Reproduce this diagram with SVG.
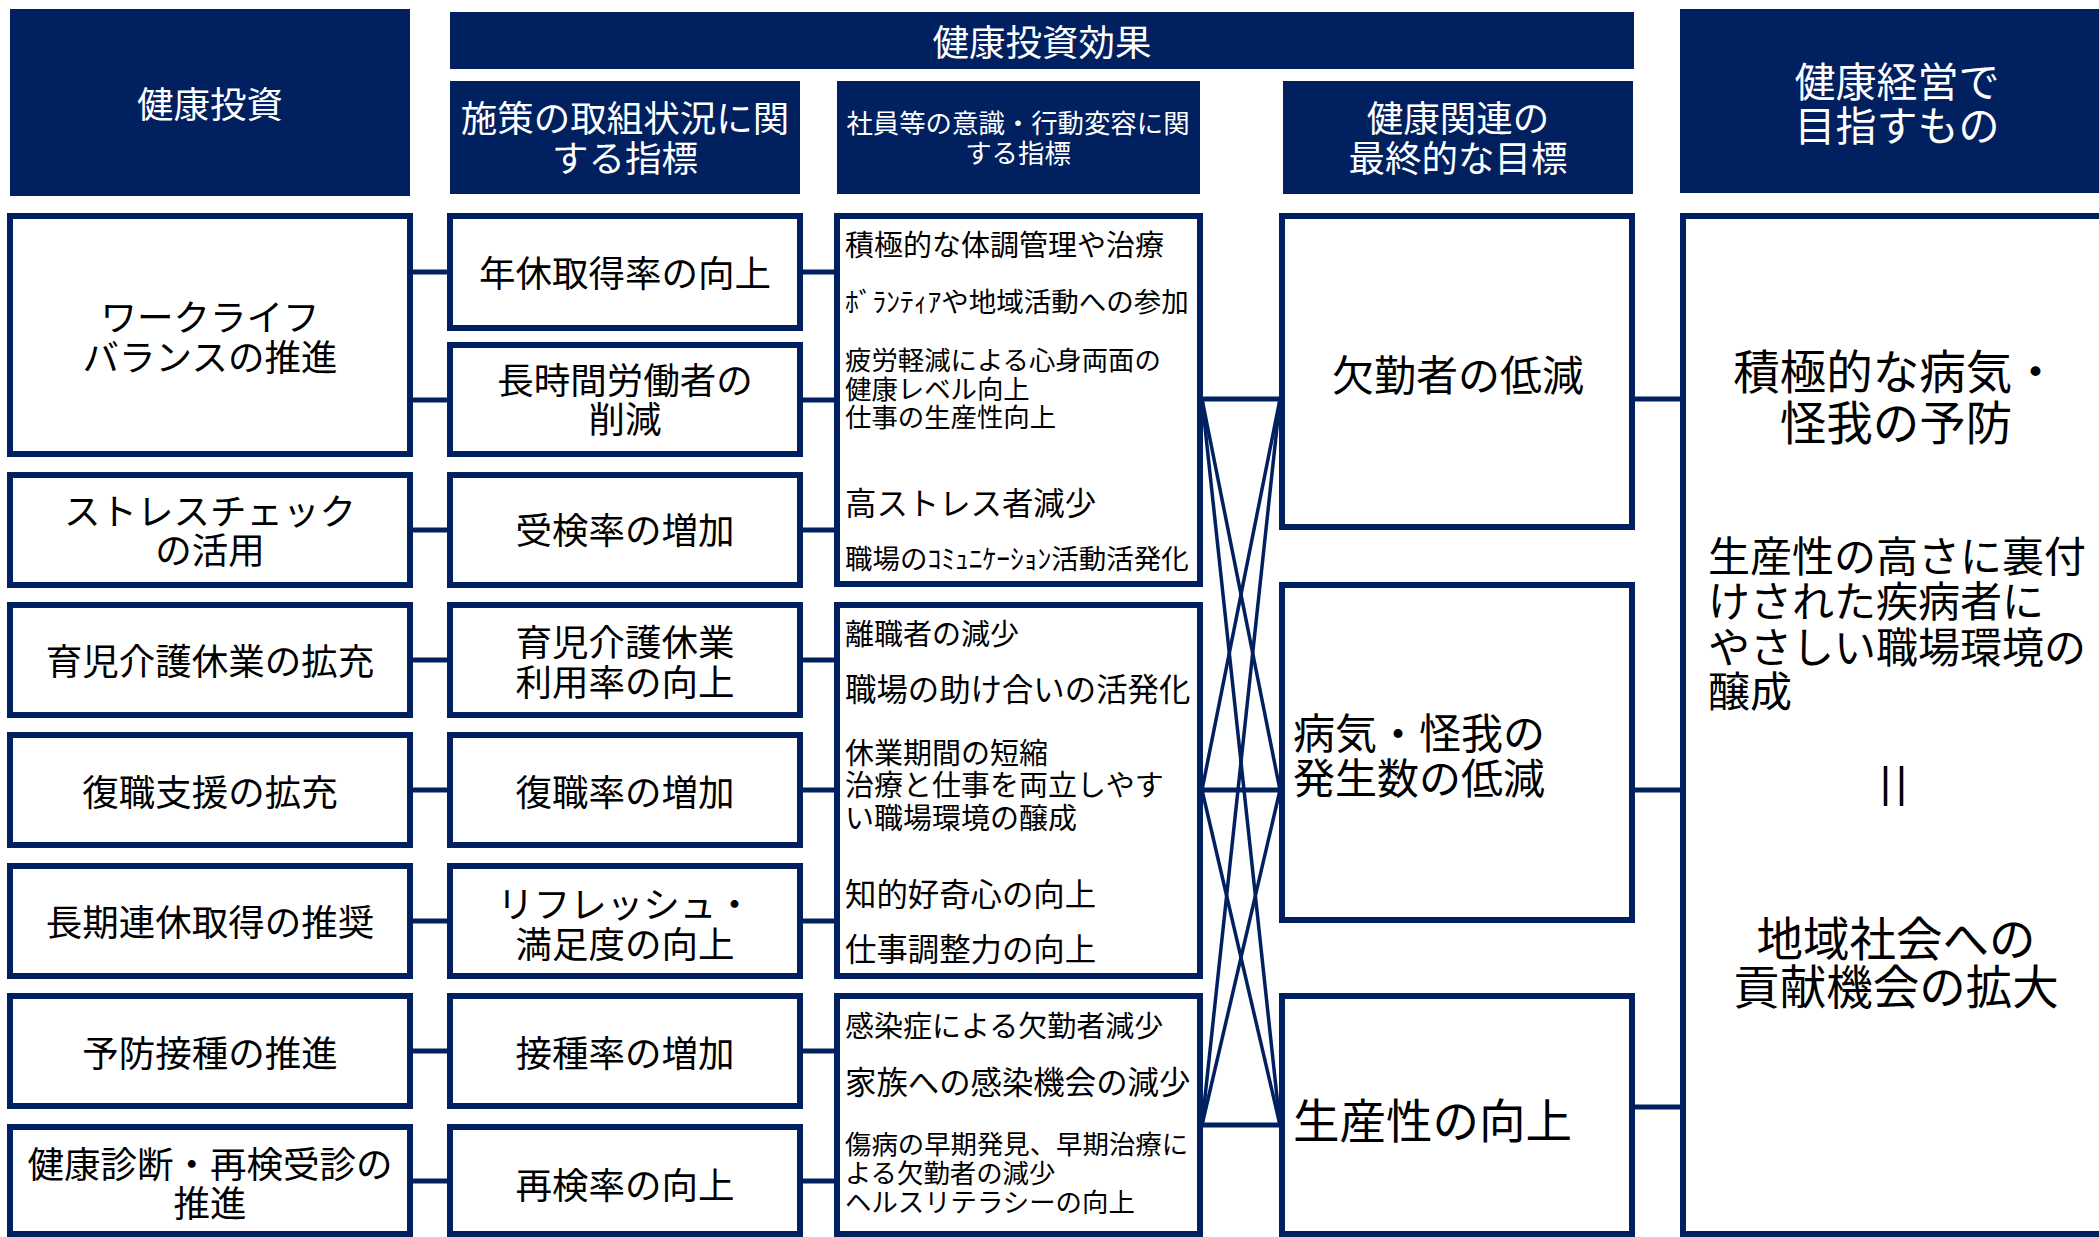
<svg xmlns="http://www.w3.org/2000/svg" width="2099" height="1237" viewBox="0 0 2099 1237">
<style>
text { font-family: "Noto Sans CJK JP", "Noto Sans CJK SC", sans-serif; dominant-baseline: central; }
.hdr { fill: #002060; }
.box { fill: #ffffff; stroke: #002060; stroke-width: 6; }
.hw { fill: #ffffff; text-anchor: middle; }
.m { fill: #000000; text-anchor: middle; }
.l { fill: #000000; text-anchor: start; }
.f26 { font-size: 26.4px; }
.f27 { font-size: 27.5px; }
.f29 { font-size: 29px; }
.f31 { font-size: 31.4px; }
.f36 { font-size: 36.5px; }
.f41 { font-size: 41px; }
.f42 { font-size: 42px; }
.f46 { font-size: 46.5px; }
.con line { stroke: #002060; }
.h { stroke-width: 5; }
.dg { stroke-width: 3.5; }
</style>
<rect x="0" y="0" width="2099" height="1237" fill="#ffffff"/>

<g id="connectors" class="con">
  <line class="h" x1="410" y1="272" x2="450" y2="272"/>
  <line class="h" x1="410" y1="400" x2="450" y2="400"/>
  <line class="h" x1="410" y1="530" x2="450" y2="530"/>
  <line class="h" x1="410" y1="660" x2="450" y2="660"/>
  <line class="h" x1="410" y1="790" x2="450" y2="790"/>
  <line class="h" x1="410" y1="921" x2="450" y2="921"/>
  <line class="h" x1="410" y1="1051" x2="450" y2="1051"/>
  <line class="h" x1="410" y1="1181" x2="450" y2="1181"/>

  <line class="h" x1="800" y1="272" x2="837" y2="272"/>
  <line class="h" x1="800" y1="400" x2="837" y2="400"/>
  <line class="h" x1="800" y1="530" x2="837" y2="530"/>
  <line class="h" x1="800" y1="660" x2="837" y2="660"/>
  <line class="h" x1="800" y1="790" x2="837" y2="790"/>
  <line class="h" x1="800" y1="921" x2="837" y2="921"/>
  <line class="h" x1="800" y1="1051" x2="837" y2="1051"/>
  <line class="h" x1="800" y1="1181" x2="837" y2="1181"/>

  <line class="h" x1="1200" y1="399" x2="1282" y2="399"/>
  <line class="h" x1="1200" y1="790" x2="1282" y2="790"/>
  <line class="h" x1="1200" y1="1125" x2="1282" y2="1125"/>
  <line class="dg" x1="1202" y1="399" x2="1280" y2="790"/>
  <line class="dg" x1="1202" y1="399" x2="1280" y2="1125"/>
  <line class="dg" x1="1202" y1="790" x2="1280" y2="399"/>
  <line class="dg" x1="1202" y1="790" x2="1280" y2="1125"/>
  <line class="dg" x1="1202" y1="1125" x2="1280" y2="399"/>
  <line class="dg" x1="1202" y1="1125" x2="1280" y2="790"/>

  <line class="h" x1="1632" y1="399" x2="1683" y2="399"/>
  <line class="h" x1="1632" y1="790" x2="1683" y2="790"/>
  <line class="h" x1="1632" y1="1107" x2="1683" y2="1107"/>
</g>

<g id="hdr-investment">
  <rect class="hdr" x="10" y="9" width="400" height="187"/>
  <text class="hw f36" x="210" y="102">健康投資</text>
</g>
<g id="hdr-effect">
  <rect class="hdr" x="450" y="12" width="1184" height="57"/>
  <text class="hw f36" x="1042" y="40">健康投資効果</text>
</g>
<g id="hdr-measures">
  <rect class="hdr" x="450" y="81" width="350" height="113"/>
  <text class="hw f36" x="625" y="116">施策の取組状況に関</text>
  <text class="hw f36" x="625" y="156">する指標</text>
</g>
<g id="hdr-awareness">
  <rect class="hdr" x="837" y="81" width="363" height="113"/>
  <text class="hw f26" x="1018" y="121">社員等の意識・行動変容に関</text>
  <text class="hw f26" x="1018" y="151">する指標</text>
</g>
<g id="hdr-goal">
  <rect class="hdr" x="1283" y="81" width="350" height="113"/>
  <text class="hw f36" x="1458" y="116">健康関連の</text>
  <text class="hw f36" x="1458" y="156">最終的な目標</text>
</g>
<g id="hdr-aim">
  <rect class="hdr" x="1680" y="9" width="419" height="184"/>
  <text class="hw f41" x="1897" y="79">健康経営で</text>
  <text class="hw f41" x="1897" y="123">目指すもの</text>
</g>

<!-- column 1 -->
<g id="inv-wlb">
  <rect class="box" x="10" y="216" width="400" height="238"/>
  <text class="m f36" x="210" y="315">ワークライフ</text>
  <text class="m f36" x="210" y="355">バランスの推進</text>
</g>
<g id="inv-stress">
  <rect class="box" x="10" y="475" width="400" height="110"/>
  <text class="m f36" x="210" y="509">ストレスチェック</text>
  <text class="m f36" x="210" y="548">の活用</text>
</g>
<g id="inv-childcare">
  <rect class="box" x="10" y="605" width="400" height="110"/>
  <text class="m f36" x="210" y="659">育児介護休業の拡充</text>
</g>
<g id="inv-return">
  <rect class="box" x="10" y="735" width="400" height="110"/>
  <text class="m f36" x="210" y="790">復職支援の拡充</text>
</g>
<g id="inv-longleave">
  <rect class="box" x="10" y="866" width="400" height="110"/>
  <text class="m f36" x="210" y="920">長期連休取得の推奨</text>
</g>
<g id="inv-vaccine">
  <rect class="box" x="10" y="996" width="400" height="110"/>
  <text class="m f36" x="210" y="1051">予防接種の推進</text>
</g>
<g id="inv-checkup">
  <rect class="box" x="10" y="1127" width="400" height="107"/>
  <text class="m f36" x="210" y="1162">健康診断・再検受診の</text>
  <text class="m f36" x="210" y="1201">推進</text>
</g>

<!-- column 2 -->
<g id="ind-leave">
  <rect class="box" x="450" y="216" width="350" height="112"/>
  <text class="m f36" x="625" y="271">年休取得率の向上</text>
</g>
<g id="ind-overtime">
  <rect class="box" x="450" y="345" width="350" height="109"/>
  <text class="m f36" x="625" y="378">長時間労働者の</text>
  <text class="m f36" x="625" y="417">削減</text>
</g>
<g id="ind-exam">
  <rect class="box" x="450" y="475" width="350" height="110"/>
  <text class="m f36" x="625" y="528">受検率の増加</text>
</g>
<g id="ind-childcare">
  <rect class="box" x="450" y="605" width="350" height="110"/>
  <text class="m f36" x="625" y="640">育児介護休業</text>
  <text class="m f36" x="625" y="680">利用率の向上</text>
</g>
<g id="ind-return">
  <rect class="box" x="450" y="735" width="350" height="110"/>
  <text class="m f36" x="625" y="790">復職率の増加</text>
</g>
<g id="ind-refresh">
  <rect class="box" x="450" y="866" width="350" height="110"/>
  <text class="m f36" x="625" y="902">リフレッシュ・</text>
  <text class="m f36" x="625" y="942">満足度の向上</text>
</g>
<g id="ind-vaccine">
  <rect class="box" x="450" y="996" width="350" height="110"/>
  <text class="m f36" x="625" y="1051">接種率の増加</text>
</g>
<g id="ind-recheck">
  <rect class="box" x="450" y="1127" width="350" height="107"/>
  <text class="m f36" x="625" y="1183">再検率の向上</text>
</g>

<!-- column 3 -->
<g id="beh-a">
  <rect class="box" x="837" y="216" width="363" height="368"/>
  <text class="l f29" x="845" y="243">積極的な体調管理や治療</text>
  <text class="l f27" x="845" y="300">ﾎﾞﾗﾝﾃｨｱや地域活動への参加</text>
  <text class="l f26" x="845" y="358">疲労軽減による心身両面の</text>
  <text class="l f26" x="845" y="387">健康レベル向上</text>
  <text class="l f26" x="845" y="415">仕事の生産性向上</text>
  <text class="l f31" x="845" y="501">高ストレス者減少</text>
  <text class="l f27" x="845" y="557">職場のｺﾐｭﾆｹｰｼｮﾝ活動活発化</text>
</g>
<g id="beh-b">
  <rect class="box" x="837" y="605" width="363" height="371"/>
  <text class="l f29" x="845" y="632">離職者の減少</text>
  <text class="l f31" x="845" y="687">職場の助け合いの活発化</text>
  <text class="l f29" x="845" y="751">休業期間の短縮</text>
  <text class="l f29" x="845" y="783">治療と仕事を両立しやす</text>
  <text class="l f29" x="845" y="816">い職場環境の醸成</text>
  <text class="l f31" x="845" y="892">知的好奇心の向上</text>
  <text class="l f31" x="845" y="947">仕事調整力の向上</text>
</g>
<g id="beh-c">
  <rect class="box" x="837" y="996" width="363" height="238"/>
  <text class="l f29" x="845" y="1024">感染症による欠勤者減少</text>
  <text class="l f31" x="845" y="1080">家族への感染機会の減少</text>
  <text class="l f26" x="845" y="1142">傷病の早期発見、早期治療に</text>
  <text class="l f26" x="845" y="1171">よる欠勤者の減少</text>
  <text class="l f26" x="845" y="1200">ヘルスリテラシーの向上</text>
</g>

<!-- column 4 -->
<g id="goal-absence">
  <rect class="box" x="1282" y="216" width="350" height="311"/>
  <text class="m f42" x="1458" y="372">欠勤者の低減</text>
</g>
<g id="goal-illness">
  <rect class="box" x="1282" y="585" width="350" height="335"/>
  <text class="l f42" x="1293" y="730">病気・怪我の</text>
  <text class="l f42" x="1293" y="775">発生数の低減</text>
</g>
<g id="goal-productivity">
  <rect class="box" x="1282" y="996" width="350" height="238"/>
  <text class="l f46" x="1293" y="1117">生産性の向上</text>
</g>

<!-- column 5 -->
<g id="aim">
  <rect class="box" x="1683" y="216" width="460" height="1018"/>
  <text class="m f46" x="1896" y="368">積極的な病気・</text>
  <text class="m f46" x="1896" y="419">怪我の予防</text>
  <text class="l f42" x="1708" y="553">生産性の高さに裏付</text>
  <text class="l f42" x="1708" y="598">けされた疾病者に</text>
  <text class="l f42" x="1708" y="644">やさしい職場環境の</text>
  <text class="l f42" x="1708" y="688">醸成</text>
  <text class="m" x="1896" y="782" style="font-family:'Liberation Sans', sans-serif; font-size:42px; letter-spacing:5px;">||</text>
  <text class="m f46" x="1896" y="935">地域社会への</text>
  <text class="m f46" x="1896" y="983">貢献機会の拡大</text>
</g>
</svg>
